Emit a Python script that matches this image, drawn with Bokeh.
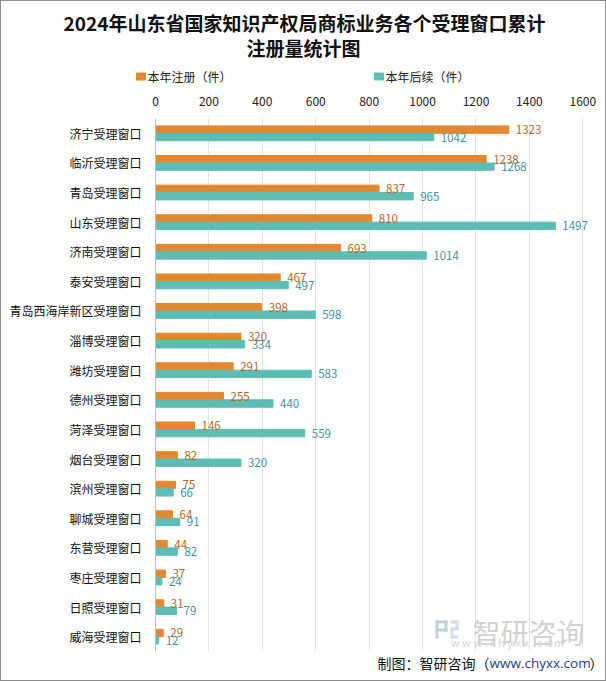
from bokeh.plotting import figure
from bokeh.layouts import column
from bokeh.models import (FactorRange, Range1d, FixedTicker, Label, BoxAnnotation, ColumnDataSource)
from bokeh.transform import dodge
from bokeh.core.properties import value
from bokeh.embed import file_html
from bokeh.resources import INLINE

categories = ["济宁受理窗口", "临沂受理窗口", "青岛受理窗口", "山东受理窗口", "济南受理窗口",
              "泰安受理窗口", "青岛西海岸新区受理窗口", "淄博受理窗口", "潍坊受理窗口", "德州受理窗口",
              "菏泽受理窗口", "烟台受理窗口", "滨州受理窗口", "聊城受理窗口", "东营受理窗口",
              "枣庄受理窗口", "日照受理窗口", "威海受理窗口"]
registered = [1323, 1238, 837, 810, 693, 467, 398, 320, 291, 255, 146, 82, 75, 64, 44, 37, 31, 29]
followup = [1042, 1268, 965, 1497, 1014, 497, 598, 334, 583, 440, 559, 320, 66, 91, 82, 24, 79, 12]
x_ticks = [0, 200, 400, 600, 800, 1000, 1200, 1400, 1600]
series_names = ["本年注册（件）", "本年后续（件）"]
title_lines = ["2024年山东省国家知识产权局商标业务各个受理窗口累计", "注册量统计图"]
footer_parts = ["制图：智研咨询（", "www.chyxx.com", "）"]

ORANGE = "#E2882F"
TEAL = "#5DBDB5"
FONT = "Noto Sans CJK SC"
W = 604
H_HEAD, H_MAIN, H_FOOT = 91, 559, 29


def blank(h):
    f = figure(width=W, height=h, output_backend="svg", toolbar_location=None,
               x_range=Range1d(0, W), y_range=Range1d(h, 0),
               x_axis_type=None, y_axis_type=None, min_border=0)
    f.frame_align = False
    f.outline_line_color = None
    f.background_fill_color = "white"
    f.border_fill_color = "white"
    f.xgrid.visible = False
    f.ygrid.visible = False
    return f


# ---------- header: title + legend ----------
head = blank(H_HEAD)
head.text(x=[303, 302], y=[21, 46], text=title_lines, text_align="center",
          text_baseline="middle", text_font=value(FONT), text_font_size="19px",
          text_font_style="bold", text_color="#111111")
head.rect(x=[139.5, 377.5], y=[75, 75], width=9, height=7, width_units="screen",
          height_units="screen", color=[ORANGE, TEAL])
head.text(x=[146, 384], y=[75, 75], text=series_names, text_align="left",
          text_baseline="middle", text_font=value(FONT), text_font_size="12px",
          text_color="#222222")

# ---------- main chart ----------
src = ColumnDataSource(dict(cat=categories, reg=registered, fol=followup,
                            reg_t=[str(v) for v in registered], fol_t=[str(v) for v in followup]))

p = figure(width=W, height=H_MAIN, output_backend="svg", toolbar_location=None,
           y_range=FactorRange(*reversed(categories)), x_range=Range1d(0, 1640),
           x_axis_location="above", min_border_left=154, min_border_right=12,
           min_border_top=26, min_border_bottom=0)
p.frame_align = False
p.outline_line_color = None
p.background_fill_color = "white"
p.border_fill_color = "white"

p.hbar(y=dodge("cat", 0.125, range=p.y_range), right="reg", height=0.25,
       color=ORANGE, source=src)
p.hbar(y=dodge("cat", -0.125, range=p.y_range), right="fol", height=0.25,
       color=TEAL, source=src)

p.text(x="reg", y=dodge("cat", 0.125, range=p.y_range), text="reg_t", source=src,
       x_offset=7, text_baseline="middle", text_font=value(FONT), text_font_size="11.5px",
       text_color="#B8651E")
p.text(x="fol", y=dodge("cat", -0.125, range=p.y_range), text="fol_t", source=src,
       x_offset=7, text_baseline="middle", text_font=value(FONT), text_font_size="11.5px",
       text_color="#3D93A6")

xa = p.xaxis[0]
xa.ticker = FixedTicker(ticks=x_ticks)
xa.axis_line_color = None
xa.major_tick_line_color = None
xa.minor_tick_line_color = None
xa.major_label_text_font = FONT
xa.major_label_text_font_size = "12px"
xa.major_label_text_color = "#222222"
xa.major_label_standoff = 7

ya = p.yaxis[0]
ya.axis_line_color = "#BFBFBF"
ya.major_tick_line_color = None
ya.minor_tick_line_color = None
ya.major_label_text_font = FONT
ya.major_label_text_font_size = "12px"
ya.major_label_text_color = "#111111"
ya.major_label_standoff = 8

p.xgrid.ticker = FixedTicker(ticks=x_ticks)
p.xgrid.grid_line_color = "#E3E3E3"
p.ygrid.grid_line_color = None

# watermark (logo blocks + text)
logo_blocks = [
    (280, 292, 28, 31, "#C3CFDF"), (280, 283, 13, 31, "#C3CFDF"), (280, 292, 20, 23, "#C3CFDF"),
    (289, 292, 20, 31, "#C3CFDF"), (295, 303, 28, 31, "#D3DCE8"), (300, 303, 22, 31, "#D3DCE8"),
    (295, 303, 21, 24, "#D3DCE8"), (295, 298, 13, 24, "#D3DCE8"), (295, 303, 13, 16, "#D3DCE8"),
]
for l, r, b, t, c in logo_blocks:
    p.add_layout(BoxAnnotation(left=l, right=r, bottom=b, top=t, left_units="screen",
                               right_units="screen", bottom_units="screen", top_units="screen",
                               fill_color=c, fill_alpha=1, line_color=None))
p.add_layout(Label(x=373, y=20, x_units="screen", y_units="screen", text="智研咨询",
                   text_align="center", text_baseline="middle", text_font=FONT,
                   text_font_size="28px", text_color="#D2D2D2"))
p.add_layout(Label(x=352, y=2, x_units="screen", y_units="screen",
                   text="w w w . c h y x x . c o m", text_align="center",
                   text_baseline="bottom", text_font=FONT,
                   text_font_size="11px", text_color="#D6D6D6"))

# ---------- footer ----------
foot = blank(H_FOOT)
foot.text(x=[376], y=[11], text=[footer_parts[0]], text_align="left", text_baseline="middle",
          text_font=value(FONT), text_font_size="14px", text_color="#111111")
foot.text(x=[488], y=[11], text=[footer_parts[1]], text_align="left", text_baseline="middle",
          text_font=value("Open Sans"), text_font_size="13.5px", text_color="#1F3C88")
foot.text(x=[588], y=[11], text=[footer_parts[2]], text_align="left", text_baseline="middle",
          text_font=value(FONT), text_font_size="14px", text_color="#111111")

layout = column(head, p, foot, spacing=0)
layout.styles = {"border": "1px solid #8C8C8C", "box-sizing": "content-box",
                 "background-color": "white"}

open("out.html", "w").write(file_html(layout, INLINE))
